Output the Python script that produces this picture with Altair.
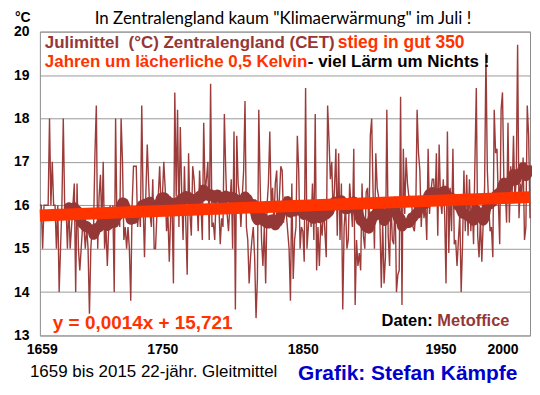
import altair as alt
import pandas as pd

# ---- July mean temperature, Central England (CET) ----
first_year = 1659
t1659 = [16.0]
t1660s = [16.0, 15.0, 16.0, 16.0, 16.0, 16.0, 18.0, 16.0, 17.0, 16.0]
t1670s = [16.0, 15.0, 16.0, 14.0, 15.0, 16.0, 18.0, 16.0, 16.0, 15.0]
t1680s = [16.0, 15.0, 15.5, 16.0, 16.5, 14.0, 16.5, 15.0, 14.5, 15.0]
t1690s = [15.5, 15.5, 15.0, 15.5, 15.0, 13.5, 15.0, 15.5, 15.5, 17.2]
t1700s = [18.3, 15.0, 16.2, 16.7, 15.5, 17.0, 15.0, 15.5, 14.6, 15.5]
t1710s = [16.0, 15.5, 16.0, 14.0, 18.0, 15.5, 16.0, 15.5, 18.0, 17.0]
t1720s = [15.2, 15.5, 15.0, 15.5, 15.0, 13.8, 16.0, 16.9, 16.9, 16.9]
t1730s = [15.5, 16.0, 15.5, 18.3, 16.0, 14.8, 16.3, 17.4, 16.5, 15.8]
t1740s = [15.5, 16.6, 15.0, 15.0, 15.8, 16.2, 16.9, 16.0, 16.2, 17.0]
t1750s = [16.4, 15.4, 15.8, 14.7, 15.8, 16.0, 14.2, 18.6, 16.2, 18.2]
t1760s = [15.5, 17.8, 16.3, 15.2, 16.9, 15.6, 14.4, 17.2, 15.8, 15.3]
t1770s = [16.9, 16.6, 16.0, 16.2, 15.4, 16.8, 16.0, 15.2, 17.9, 16.3]
t1780s = [16.6, 17.0, 15.2, 18.8, 15.5, 15.6, 15.2, 16.2, 15.8, 16.0]
t1790s = [15.1, 15.7, 15.5, 18.1, 16.8, 15.8, 15.4, 16.0, 16.6, 15.0]
t1800s = [17.7, 13.6, 17.6, 16.5, 16.2, 15.5, 16.2, 16.8, 18.4, 15.5]
t1810s = [15.2, 14.2, 14.8, 15.2, 15.5, 14.8, 13.4, 14.3, 18.2, 16.5]
t1820s = [15.2, 14.6, 15.5, 14.2, 16.0, 16.5, 17.7, 16.0, 16.4, 15.6]
t1830s = [16.5, 16.8, 15.5, 16.2, 16.9, 16.8, 15.6, 16.2, 15.8, 15.4]
t1840s = [15.0, 13.8, 16.5, 14.3, 15.2, 15.5, 17.6, 16.8, 15.0, 15.5]
t1850s = [15.4, 14.7, 18.7, 15.0, 15.5, 16.0, 15.5, 16.5, 15.2, 18.1]
t1860s = [14.5, 15.5, 14.6, 15.6, 15.3, 16.0, 15.4, 14.8, 18.3, 17.5]
t1870s = [16.6, 17.0, 15.8, 16.4, 17.3, 15.3, 17.2, 15.2, 16.5, 13.6]
t1880s = [15.5, 16.0, 15.0, 15.2, 16.5, 16.0, 15.5, 17.3, 13.7, 15.2]
t1890s = [14.6, 14.9, 14.5, 16.5, 15.3, 15.0, 16.3, 16.4, 15.4, 17.6]
t1900s = [18.0, 16.3, 15.0, 17.2, 16.4, 16.2, 15.6, 14.1, 15.6, 14.2]
t1910s = [14.8, 18.2, 15.3, 14.6, 16.1, 15.2, 15.1, 16.2, 14.0, 14.4]
t1920s = [14.5, 18.5, 13.7, 17.3, 15.8, 17.1, 16.5, 16.2, 16.2, 16.1]
t1930s = [15.5, 15.4, 15.8, 18.2, 17.2, 16.8, 15.5, 16.2, 15.7, 16.0]
t1940s = [15.2, 17.3, 15.8, 16.3, 16.6, 16.6, 16.0, 17.2, 15.3, 17.4]
t1950s = [16.1, 15.8, 16.6, 15.8, 14.2, 17.7, 14.9, 16.4, 15.4, 17.3]
t1960s = [15.1, 15.2, 14.6, 15.2, 15.8, 14.0, 15.1, 16.8, 15.4, 16.7]
t1970s = [15.3, 16.6, 15.4, 16.1, 15.1, 17.0, 18.7, 15.3, 14.8, 15.7]
t1980s = [14.7, 15.6, 16.4, 19.5, 16.8, 16.0, 15.4, 15.5, 14.8, 18.2]
t1990s = [17.2, 17.3, 16.1, 15.1, 18.2, 18.6, 16.6, 16.4, 15.6, 17.9]
t2000s = [15.6, 16.9, 16.2, 17.6, 16.1, 16.6, 19.7, 15.7, 16.5, 16.2]
t2010s = [17.1, 15.2, 15.5, 18.3, 17.6, 15.7]

decades = [t1659, t1660s, t1670s, t1680s, t1690s, t1700s, t1710s, t1720s,
           t1730s, t1740s, t1750s, t1760s, t1770s, t1780s, t1790s, t1800s,
           t1810s, t1820s, t1830s, t1840s, t1850s, t1860s, t1870s, t1880s,
           t1890s, t1900s, t1910s, t1920s, t1930s, t1940s, t1950s, t1960s,
           t1970s, t1980s, t1990s, t2000s, t2010s]
temps = [v for d in decades for v in d]
years = list(range(first_year, first_year + len(temps)))

x_ticks = [1659, 1750, 1850, 1950, 2000]
y_ticks = [13, 14, 15, 16, 17, 18, 19, 20]
ma_window = 22

df = pd.DataFrame({"year": years, "temp": temps})

ARIAL = "Liberation Sans"
BROWN = "#953735"
ORANGE = "#FF3300"

x_enc = alt.X("year:Q",
              scale=alt.Scale(domain=[1659, 2015], nice=False, zero=False),
              axis=alt.Axis(values=x_ticks, format="d", title=None, grid=False,
                            ticks=False, domain=False, labelFont=ARIAL,
                            labelFontSize=14, labelFontWeight="bold",
                            labelColor="black", labelPadding=7,
                            labelFlush=False, labelOverlap=False,
                            labelOffset={"condition": [
                                {"test": "datum.value == 2000", "value": -7},
                                {"test": "datum.value == 1750", "value": -3},
                                {"test": "datum.value == 1659", "value": 2}],
                                "value": 0}))
y_axis = alt.Axis(values=y_ticks, title=None, grid=True, gridColor="#9a9a9a",
                  gridWidth=1, ticks=False, domain=False, labelFont=ARIAL,
                  labelFontSize=14, labelFontWeight="bold", labelColor="black",
                  labelPadding=11)
y_scale = alt.Scale(domain=[13, 20], nice=False, zero=False)

base = alt.Chart(df)

annual = base.mark_line(color="#9C3C3A", strokeWidth=1.4).encode(
    x=x_enc, y=alt.Y("temp:Q", scale=y_scale, axis=y_axis))

moving = base.transform_window(
    ma="mean(temp)", n="count(temp)", frame=[-(ma_window - 1), 0],
    sort=[alt.SortField("year")]
).transform_filter(f"datum.n == {ma_window}").mark_line(
    color=BROWN, strokeWidth=10, strokeCap="round", strokeJoin="round"
).encode(x=x_enc, y=alt.Y("ma:Q", scale=y_scale, axis=y_axis))

trend = base.transform_regression("year", "temp").mark_line(
    color=ORANGE, strokeWidth=12
).encode(x=x_enc, y=alt.Y("temp:Q", scale=y_scale, axis=y_axis))


def label(text, x, y, size, color, weight="bold", font=ARIAL, align="left",
          baseline="alphabetic"):
    return alt.Chart(pd.DataFrame({"t": [text]})).mark_text(
        font=font, fontSize=size, fontWeight=weight, color=color,
        align=align, baseline=baseline
    ).encode(x=alt.value(x), y=alt.value(y), text="t:N")


texts = [
    label("°C", -25, -10, 14, "black"),
    label('In Zentralengland kaum "Klimaerwärmung" im Juli !', 244, -8, 17,
          "black", weight="normal", font="Lato", align="center"),
    label("Julimittel\u00a0\u00a0(°C) Zentralengland (CET)", 5, 16, 17, BROWN),
    label("stieg in gut 350", 299, 16, 17.5, ORANGE),
    label("Jahren um lächerliche 0,5 Kelvin", 5, 36, 17, ORANGE),
    label("- viel Lärm um Nichts !", 269, 36, 17, "black"),
    label("y = 0,0014x + 15,721", 13, 299, 19, ORANGE),
    label("Daten:", 343, 295, 16.5, "black"),
    label("Metoffice", 399, 295, 16.5, BROWN),
    label("1659 bis 2015 22-jähr. Gleitmittel", -10, 347, 17, "black",
          weight="normal"),
    label("Grafik: Stefan Kämpfe", 259, 350, 21, "#0000CC"),
]

chart = alt.layer(annual, moving, trend, *texts).properties(
    width=492, height=305,
    autosize="none",
    padding={"left": 32, "top": 23, "right": 2, "bottom": 47},
    background="white",
).configure_view(stroke="#8c8c8c", strokeWidth=1)

chart.save("out.html", embed_options={"renderer": "svg", "actions": False})
